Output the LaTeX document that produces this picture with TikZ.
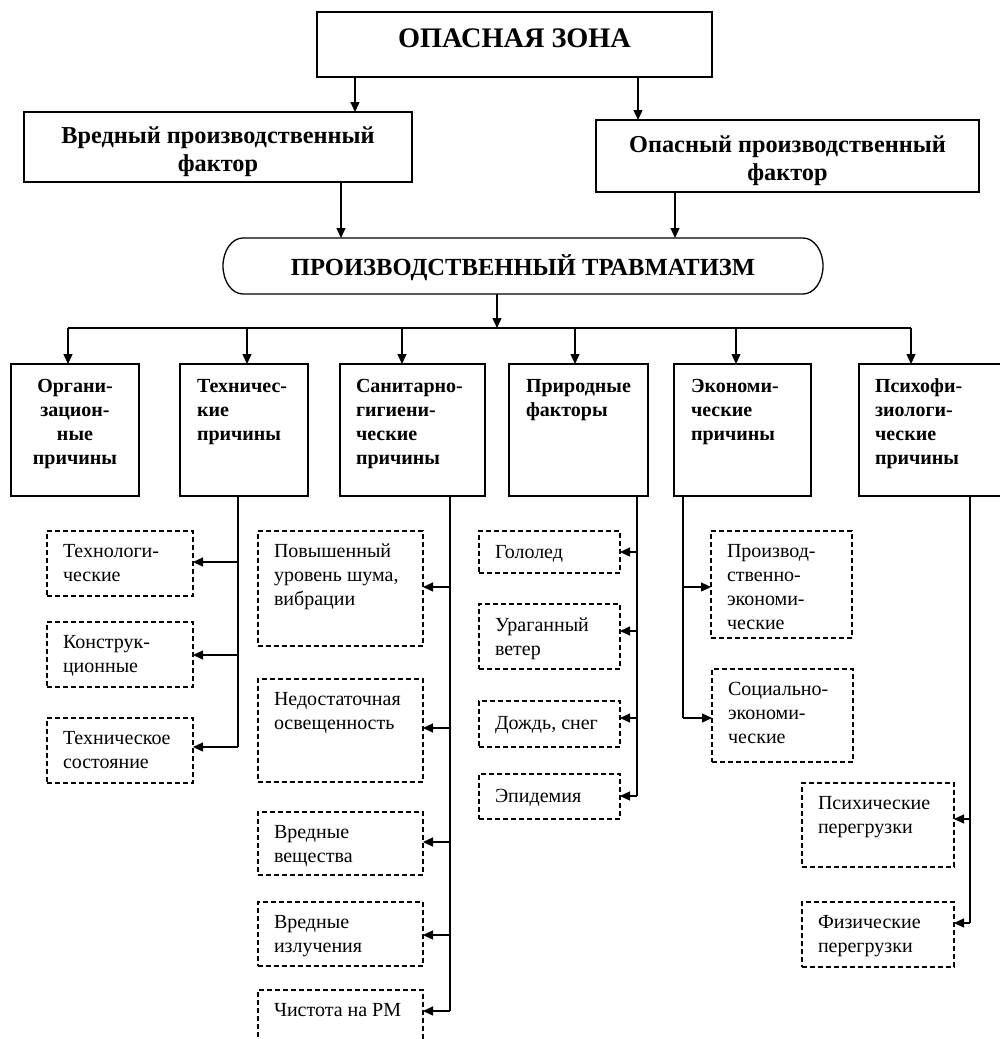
\documentclass[tikz,border=0pt]{standalone}
\usepackage{fontspec}
\setmainfont{Liberation Serif}
\usetikzlibrary{arrows.meta}
\newcommand\mklines[2]{\begin{tabular}[t]{@{}#1@{}}#2\end{tabular}}
\newcommand\mkbox[6]{\node[#2,anchor=north west,minimum width={#5-#3},minimum height={#6-#4}] (#1) at (#3,#4) {};}
\begin{document}
\begin{tikzpicture}[x=1pt,y=-1pt,
  bx/.style={draw, line width=1.3pt, inner sep=0pt, outer sep=0pt},
  dbx/.style={draw, line width=1.2pt, dash pattern=on 5pt off 3pt, inner sep=0pt, outer sep=0pt},
  ln/.style={line width=1.3pt},
  arr/.style={line width=1.3pt, -{Triangle[length=10pt,width=9pt]}},
  tx/.style={inner sep=0pt, outer sep=0pt, anchor=base west, font=\fontsize{20}{24}\selectfont},
  tb/.style={inner sep=0pt, outer sep=0pt, anchor=base west, font=\fontsize{20}{24}\selectfont\bfseries},
  th/.style={inner sep=0pt, outer sep=0pt, anchor=base, font=\fontsize{24.3}{28}\selectfont\bfseries},
]
\useasboundingbox (0,0) rectangle (1000,1039);

% ---- top level
\mkbox{oz}{bx}{317}{12}{712}{77}
\node[inner sep=0pt, anchor=base, font=\fontsize{28.3}{32}\selectfont\bfseries] (ozt) at (514.5,47) {ОПАСНАЯ ЗОНА};
\mkbox{vf}{bx}{24}{112}{412}{182}
\node[th] (vft) at (218,143) {\mklines{c}{Вредный производственный\\фактор}};
\mkbox{of}{bx}{596}{120}{979}{192}
\node[th] (oft) at (787.5,152) {\mklines{c}{Опасный производственный\\фактор}};

% ---- travmatizm
\node[inner sep=0pt, outer sep=0pt, minimum width=600, minimum height=56] (tr) at (523,266) {};
\draw[line width=1.3pt] ([xshift=20pt]tr.north west) -- ([xshift=-20pt]tr.north east)
  arc[start angle=90, end angle=-90, x radius=20pt, y radius=28pt]
  -- ([xshift=20pt]tr.south west)
  arc[start angle=270, end angle=90, x radius=20pt, y radius=28pt] -- cycle;
\node[inner sep=0pt, anchor=base, font=\fontsize{24.6}{28}\selectfont\bfseries] (trt) at (523,275) {ПРОИЗВОДСТВЕННЫЙ ТРАВМАТИЗМ};

\draw[arr] ([xshift=38pt]oz.south west) coordinate (a1) -- (a1 |- vf.north);
\draw[arr] ([xshift=-74pt]oz.south east) coordinate (a2) -- (a2 |- of.north);
\draw[arr] ([xshift=317pt]vf.south west) coordinate (a3) -- (a3 |- tr.north);
\draw[arr] ([xshift=79pt]of.south west) coordinate (a4) -- (a4 |- tr.north);

% ---- categories
\mkbox{org}{bx}{11}{364}{139}{496}
\node[tb, anchor=base] (orgt) at (75,392) {\mklines{c}{Органи-\\зацион-\\ные\\причины}};
\mkbox{teh}{bx}{180}{364}{308}{496}
\node[tb] (teht) at (197,392) {\mklines{l}{Техничес-\\кие\\причины}};
\mkbox{san}{bx}{340}{364}{485}{496}
\node[tb] (sant) at (356,392) {\mklines{l}{Санитарно-\\гигиени-\\ческие\\причины}};
\mkbox{pri}{bx}{509}{364}{648}{496}
\node[tb] (prit) at (526,392) {\mklines{l}{Природные\\факторы}};
\mkbox{eko}{bx}{674}{364}{811}{496}
\node[tb] (ekot) at (691,392) {\mklines{l}{Экономи-\\ческие\\причины}};
\mkbox{psi}{bx}{859}{364}{1003}{496}
\node[tb] (psit) at (875,392) {\mklines{l}{Психофи-\\зиологи-\\ческие\\причины}};

\coordinate (b0) at (497,328);
\coordinate (b1) at (68,328);
\coordinate (b2) at (247,328);
\coordinate (b3) at (402,328);
\coordinate (b4) at (575,328);
\coordinate (b5) at (736,328);
\coordinate (b6) at (911,328);
\draw[arr] (tr.south -| b0) -- (b0);
\draw[ln] (b1) -- (b6);
\draw[arr] (b1) -- (b1 |- org.north);
\draw[arr] (b2) -- (b2 |- teh.north);
\draw[arr] (b3) -- (b3 |- san.north);
\draw[arr] (b4) -- (b4 |- pri.north);
\draw[arr] (b5) -- (b5 |- eko.north);
\draw[arr] (b6) -- (b6 |- psi.north);

% ---- technical
\mkbox{t1}{dbx}{47}{531}{193}{596}
\node[tx] (t1t) at (63,557.5) {\mklines{l}{Технологи-\\ческие}};
\mkbox{t2}{dbx}{47}{622}{193}{687}
\node[tx] (t2t) at (63,648.5) {\mklines{l}{Конструк-\\ционные}};
\mkbox{t3}{dbx}{47}{718}{193}{783}
\node[tx] (t3t) at (63,744.5) {\mklines{l}{Техническое\\состояние}};
\coordinate (t1a) at (238,562);
\coordinate (t2a) at (238,655);
\coordinate (t3a) at (238,747);
\draw[ln] (teh.south -| t1a) -- (t3a);
\draw[arr] (t1a) -- (t1a -| t1.east);
\draw[arr] (t2a) -- (t2a -| t2.east);
\draw[arr] (t3a) -- (t3a -| t3.east);

% ---- sanitary
\mkbox{s1}{dbx}{258}{531}{423}{646}
\node[tx] (s1t) at (274,557.5) {\mklines{l}{Повышенный\\уровень шума,\\вибрации}};
\mkbox{s2}{dbx}{258}{679}{423}{782}
\node[tx] (s2t) at (274,705.5) {\mklines{l}{Недостаточная\\освещенность}};
\mkbox{s3}{dbx}{258}{812}{423}{875}
\node[tx] (s3t) at (274,838.5) {\mklines{l}{Вредные\\вещества}};
\mkbox{s4}{dbx}{258}{902}{423}{966}
\node[tx] (s4t) at (274,928.5) {\mklines{l}{Вредные\\излучения}};
\mkbox{s5}{dbx}{258}{990}{423}{1050}
\node[tx] (s5t) at (274,1016.5) {Чистота на РМ};
\coordinate (s1a) at (450,587);
\coordinate (s2a) at (450,728);
\coordinate (s3a) at (450,842);
\coordinate (s4a) at (450,935);
\coordinate (s5a) at (450,1011);
\draw[ln] (san.south -| s1a) -- (s5a);
\draw[arr] (s1a) -- (s1a -| s1.east);
\draw[arr] (s2a) -- (s2a -| s2.east);
\draw[arr] (s3a) -- (s3a -| s3.east);
\draw[arr] (s4a) -- (s4a -| s4.east);
\draw[arr] (s5a) -- (s5a -| s5.east);

% ---- natural
\mkbox{p1}{dbx}{479}{531}{620}{573}
\node[tx] (p1t) at (495,558) {Гололед};
\mkbox{p2}{dbx}{479}{604}{620}{669}
\node[tx] (p2t) at (495,631) {\mklines{l}{Ураганный\\ветер}};
\mkbox{p3}{dbx}{479}{701}{620}{747}
\node[tx] (p3t) at (495,729) {Дождь, снег};
\mkbox{p4}{dbx}{479}{774}{620}{819}
\node[tx] (p4t) at (495,802) {Эпидемия};
\coordinate (p1a) at (637,552);
\coordinate (p2a) at (637,631);
\coordinate (p3a) at (637,718);
\coordinate (p4a) at (637,796);
\draw[ln] (pri.south -| p1a) -- (p4a);
\draw[arr] (p1a) -- (p1a -| p1.east);
\draw[arr] (p2a) -- (p2a -| p2.east);
\draw[arr] (p3a) -- (p3a -| p3.east);
\draw[arr] (p4a) -- (p4a -| p4.east);

% ---- economic
\mkbox{e1}{dbx}{711}{531}{852}{638}
\node[tx] (e1t) at (727,557.5) {\mklines{l}{Производ-\\ственно-\\экономи-\\ческие}};
\mkbox{e2}{dbx}{712}{669}{853}{762}
\node[tx] (e2t) at (728,695.5) {\mklines{l}{Социально-\\экономи-\\ческие}};
\coordinate (e1a) at (683,587);
\coordinate (e2a) at (683,718);
\draw[ln] (eko.south -| e1a) -- (e2a);
\draw[arr] (e1a) -- (e1a -| e1.west);
\draw[arr] (e2a) -- (e2a -| e2.west);

% ---- psychophysiological
\mkbox{q1}{dbx}{802}{783}{954}{867}
\node[tx] (q1t) at (818,809.5) {\mklines{l}{Психические\\перегрузки}};
\mkbox{q2}{dbx}{802}{902}{954}{967}
\node[tx] (q2t) at (818,928.5) {\mklines{l}{Физические\\перегрузки}};
\coordinate (q1a) at (970,819);
\coordinate (q2a) at (970,923);
\draw[ln] (psi.south -| q1a) -- (q2a);
\draw[arr] (q1a) -- (q1a -| q1.east);
\draw[arr] (q2a) -- (q2a -| q2.east);
\end{tikzpicture}
\end{document}
